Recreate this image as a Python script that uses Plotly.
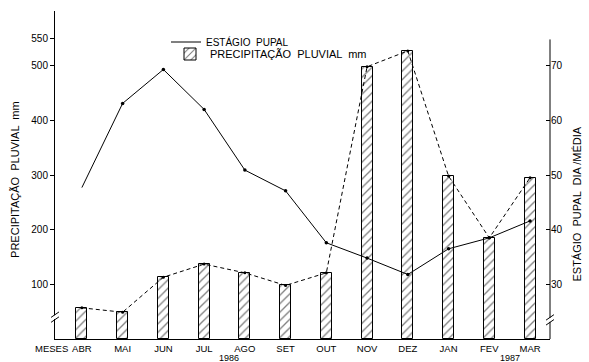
import plotly.graph_objects as go

months = ["ABR", "MAI", "JUN", "JUL", "AGO", "SET", "OUT", "NOV", "DEZ", "JAN", "FEV", "MAR"]
precip_mm = [57, 49, 113, 137, 121, 98, 121, 498, 527, 298, 185, 295]
pupal_days = [47.7, 63.1, 69.3, 62.0, 50.9, 47.1, 37.6, 34.8, 31.8, 36.5, 38.5, 41.6]
left_ticks = [100, 200, 300, 400, 500, 550]
right_ticks = [30, 40, 50, 60, 70]

FONT = "Liberation Sans"
fig = go.Figure()

fig.add_trace(go.Bar(
    x=months, y=precip_mm, width=0.27,
    name="PRECIPITAÇÃO  PLUVIAL  mm", legend="legend2",
    marker=dict(color="white", line=dict(color="black", width=1),
                pattern=dict(shape="/", fgcolor="black", bgcolor="white", size=6, solidity=0.22)),
))
fig.add_trace(go.Scatter(
    x=months, y=precip_mm, mode="lines+markers", showlegend=False,
    line=dict(color="black", width=1, dash="4px,3px"),
    marker=dict(color="black", size=3),
))
fig.add_trace(go.Scatter(
    x=months, y=pupal_days, yaxis="y2", mode="lines",
    name="ESTÁGIO  PUPAL", legend="legend",
    line=dict(color="black", width=1),
))
fig.add_trace(go.Scatter(
    x=months[1:], y=pupal_days[1:], yaxis="y2", mode="markers", showlegend=False,
    marker=dict(color="black", size=3.5),
))

shapes = []
# right axis line (shorter than plot area)
shapes.append(dict(type="line", xref="paper", yref="y2", x0=1, x1=1, y0=20, y1=74.8,
                   line=dict(color="black", width=1)))
# axis break marks
for xp, yp in [(0, 24), (1, 23.5)]:
    shapes.append(dict(type="rect", xref="paper", yref="y2", x0=xp - 0.004, x1=xp + 0.004,
                       y0=yp - 0.35, y1=yp + 0.35, fillcolor="white", line=dict(width=0)))
    for dy in (-0.45, 0.45):
        shapes.append(dict(type="line", xref="paper", yref="y2", x0=xp - 0.008, x1=xp + 0.008,
                           y0=yp + dy - 0.5, y1=yp + dy + 0.5, line=dict(color="black", width=1)))

annotations = [
    dict(text="MESES", xref="paper", yref="paper", x=(51 - 55) / 495, y=0,
         xanchor="center", yanchor="top", yshift=-2,
         showarrow=False, font=dict(size=9.5, family=FONT, color="black")),
    dict(text="1986", xref="x", yref="paper", x=3.6, y=0, xanchor="center", yanchor="middle",
         yshift=-19, showarrow=False, font=dict(size=9, family=FONT, color="black")),
    dict(text="1987", xref="x", yref="paper", x=10.5, y=0, xanchor="center", yanchor="middle",
         yshift=-19, showarrow=False, font=dict(size=9, family=FONT, color="black")),
    dict(text="PRECIPITAÇÃO  PLUVIAL  mm", xref="paper", yref="paper", x=(15 - 55) / 495,
         y=0.485, xanchor="center", yanchor="middle",
         textangle=-90, showarrow=False, font=dict(size=11, family=FONT, color="black")),
    dict(text="ESTÁGIO  PUPAL  DIA /MÉDIA", xref="paper", yref="paper", x=(577 - 55) / 495,
         y=0.41, xanchor="center", yanchor="middle",
         textangle=-90, showarrow=False, font=dict(size=11, family=FONT, color="black")),
]

fig.update_layout(
    width=589, height=362,
    margin=dict(l=55, r=39, t=11, b=23, autoexpand=False),
    plot_bgcolor="white", paper_bgcolor="white",
    font=dict(family=FONT, size=10, color="black"),
    bargap=0,
    xaxis=dict(range=[-0.66, 11.49], showline=True, linecolor="black", linewidth=1,
               ticks="", showgrid=False, tickfont=dict(size=9.5), ticklabelstandoff=1,
               automargin=False),
    yaxis=dict(range=[0, 600], tickvals=left_ticks, showline=True, linecolor="black", linewidth=1,
               ticks="outside", ticklen=4, tickcolor="black", showgrid=False, zeroline=False,
               tickfont=dict(size=10), ticklabelstandoff=0, automargin=False),
    yaxis2=dict(range=[20, 80], tickvals=right_ticks, overlaying="y", side="right",
                showline=False, ticks="inside", ticklen=4, tickcolor="black", showgrid=False,
                zeroline=False, tickfont=dict(size=10), ticklabelstandoff=0, automargin=False),
    legend=dict(x=(166 - 55) / 495, y=(339 - 42) / 328, xanchor="left", yanchor="middle",
                bgcolor="rgba(0,0,0,0)", font=dict(size=10), itemwidth=30, tracegroupgap=0),
    legend2=dict(x=(170 - 55) / 495, y=(339 - 54) / 328, xanchor="left", yanchor="middle",
                 bgcolor="rgba(0,0,0,0)", font=dict(size=11), itemwidth=30, tracegroupgap=0),
    shapes=shapes, annotations=annotations, showlegend=True,
)

fig.write_html("out.html", config={"displayModeBar": False},
               post_script="document.body.style.margin='0px';")
